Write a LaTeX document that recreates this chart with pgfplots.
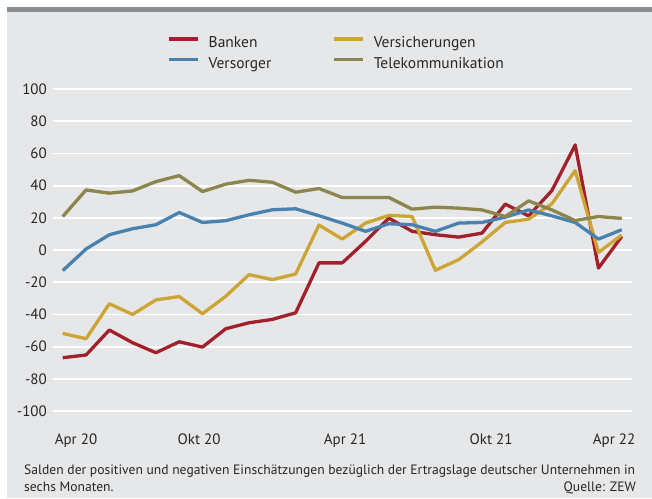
\documentclass[border=0pt]{standalone}
\usepackage{pgfplots}
\pgfplotsset{compat=1.18}
\usepackage{fontspec}
\setmainfont{PT Sans}
\definecolor{bgc}{HTML}{E6E7E9}
\definecolor{barc}{HTML}{8C8D8F}
\definecolor{banken}{RGB}{162,32,42}
\definecolor{versich}{RGB}{205,165,52}
\definecolor{versorg}{RGB}{74,130,175}
\definecolor{telekom}{RGB}{140,134,76}

\begin{document}
\begin{tikzpicture}
\useasboundingbox (0pt,0pt) rectangle (652pt,498pt);
\fill[white] (0pt,0pt) rectangle (652pt,498pt);
\fill[bgc] (7pt,0pt) rectangle (652pt,486pt);
\fill[barc] (7pt,486pt) rectangle (652pt,490.5pt);
\begin{axis}[
  at={(52.5pt,87pt)}, anchor=south west,
  scale only axis, width=579.5pt, height=322pt,
  xmin=-0.44, xmax=24.44, ymin=-100, ymax=100,
  axis line style={draw=none}, tick style={draw=none},
  ytick={-100,-80,...,100},
  ymajorgrids, grid style={white, line width=1.8pt},
  xtick={0.57,5.85,12.12,18.39,23.67},
  xticklabels={Apr 20,Okt 20,Apr 21,Okt 21,Apr 22},
  /pgf/number format/assume math mode=true,
  ticklabel style={font=\fontsize{15}{18}\selectfont, text=black!85},
  yticklabel style={anchor=east, inner sep=0pt, xshift=-5.5pt},
  xticklabel style={anchor=base, inner sep=0pt, yshift=-33.5pt},
  legend columns=2,
  legend cell align=left,
  legend style={at={(axis description cs:0.1976,1)}, anchor=south west,
    yshift=19pt, draw=none, fill=none, inner sep=0pt,
    font=\fontsize{15.5}{18}\selectfont,
    nodes={inner sep=0pt, text=black!85},
    row sep=8.3pt,
    /tikz/every odd column/.append style={column sep=9pt},
    /tikz/every even column/.append style={column sep=61pt}},
  legend image code/.code={\draw[#1, line width=3.5pt] (0pt,3.9pt) -- (29pt,3.9pt);},
  every axis plot/.append style={line width=3.3pt, line join=round},
]
\addplot[banken] coordinates {
(0,-66.9) (1,-65.2) (2,-49.7) (3,-57.6) (4,-63.8) (5,-57.0) (6,-60.3) (7,-48.9)
(8,-45.2) (9,-43.1) (10,-39.0) (11,-8.0) (12,-8.0) (13,5.4) (14,19.8) (15,11.6)
(16,9.5) (17,8.0) (18,10.5) (19,28.5) (20,21.2) (21,36.9) (22,65.2) (23,-11.2) (24,8.4)};
\addlegendentry{Banken}
\addplot[versich] coordinates {
(0,-51.8) (1,-55.1) (2,-33.4) (3,-40.0) (4,-31.0) (5,-28.9) (6,-39.6) (7,-28.7)
(8,-15.3) (9,-18.4) (10,-14.9) (11,15.5) (12,6.8) (13,16.7) (14,21.5) (15,20.8)
(16,-12.6) (17,-6.0) (18,5.0) (19,17.1) (20,19.2) (21,28.7) (22,49.3) (23,-1.5) (24,9.3)};
\addlegendentry{Versicherungen}
\addplot[versorg] coordinates {
(0,-12.8) (1,0.6) (2,9.5) (3,13.2) (4,15.7) (5,23.3) (6,17.1) (7,18.2)
(8,21.9) (9,25.0) (10,25.6) (11,21.3) (12,16.7) (13,11.6) (14,16.3) (15,15.7)
(16,11.6) (17,16.7) (18,17.1) (19,20.4) (20,24.9) (21,21.2) (22,17.1) (23,6.8) (24,12.6)};
\addlegendentry{Versorger}
\addplot[telekom] coordinates {
(0,20.8) (1,37.3) (2,35.3) (3,36.7) (4,42.5) (5,46.2) (6,36.3) (7,40.9)
(8,43.3) (9,42.1) (10,35.9) (11,38.2) (12,32.6) (13,32.6) (14,32.6) (15,25.4)
(16,26.6) (17,26.0) (18,24.9) (19,20.8) (20,30.5) (21,24.9) (22,18.3) (23,20.8) (24,19.6)};
\addlegendentry{Telekommunikation}
\end{axis}
\node[anchor=base west, inner sep=0pt, font=\fontsize{13.6}{16}\selectfont, text=black!85]
  at (24pt,24pt) {Salden der positiven und negativen Einschätzungen bezüglich der Ertragslage deutscher Unternehmen in};
\node[anchor=base west, inner sep=0pt, font=\fontsize{13.6}{16}\selectfont, text=black!85]
  at (24pt,7pt) {sechs Monaten.};
\node[anchor=base east, inner sep=0pt, font=\fontsize{13.6}{16}\selectfont, text=black!85]
  at (636pt,7pt) {Quelle: ZEW};
\end{tikzpicture}
\end{document}
